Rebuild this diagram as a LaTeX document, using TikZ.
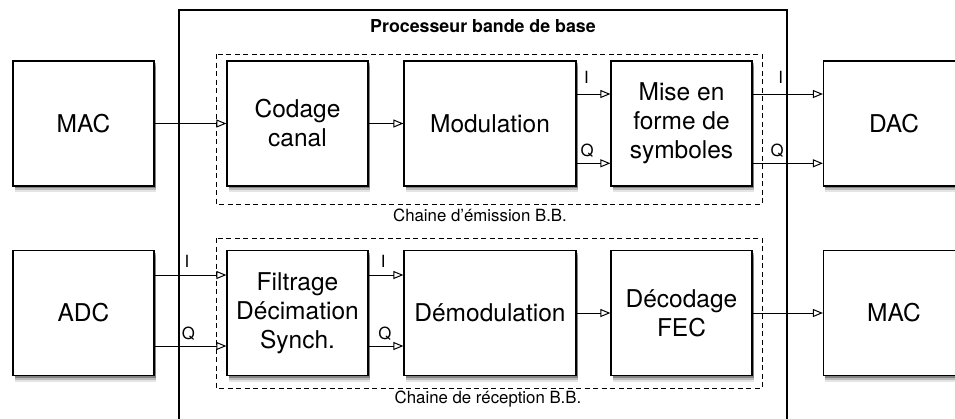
\documentclass[tikz,border=0pt]{standalone}
\usepackage{fontspec}
\setmainfont{TeX Gyre Heros}
\usetikzlibrary{arrows.meta,shadows}

\begin{document}
\begin{tikzpicture}[x=1pt, y=-1pt,
	ombre/.style={drop shadow={shadow xshift=1.5pt, shadow yshift=-2pt, opacity=0.3, fill=black},
		drop shadow={shadow xshift=1.5pt, shadow yshift=-4pt, opacity=0.18, fill=black},
		drop shadow={shadow xshift=1.5pt, shadow yshift=-6pt, opacity=0.1, fill=black}},
	bloc/.style={draw, fill=white, line width=1.2pt, minimum width=141pt, minimum height=125pt,
		align=center, inner sep=0pt, font=\fontsize{24.5}{29}\selectfont, ombre},
	fleche/.style={line width=1pt, -{Triangle[open, length=10pt, width=8pt]}},
	voie/.style={font=\fontsize{16.8}{20}\selectfont, inner sep=0pt},
	chaine/.style={draw, dash pattern=on 5pt off 3.5pt, line width=1pt}]
			
			\useasboundingbox (0,0) rectangle (955,418);
			
			%%%%% processeur %%%%%
			\draw[line width=1.2pt] (179,10) rectangle (787,440);
			\node[font=\bfseries\fontsize{17.8}{21}\selectfont, anchor=base] (titre) at (483,32) {Processeur bande de base};
			
			\draw[chaine] (216,54) rectangle (762,204);
			\node[voie, anchor=base] (emission) at (480,221) {Chaine d'émission B.B.};
			\draw[chaine] (216,238) rectangle (762,388);
			\node[voie, anchor=base] (reception) at (488,403) {Chaine de réception B.B.};
			
			%%%%% emission %%%%%
			\node[bloc] (mactx) at (83.5,123.5) {MAC};
			\node[bloc] (codage) at (297.5,123.5) {Codage\\canal};
			\node[bloc, minimum width=172pt] (modul) at (490,123.5) {Modulation};
			\node[bloc] (mise) at (681.5,123.5) {Mise en\\forme de\\symboles};
			\node[bloc] (dac) at (894,123.5) {DAC};
			
			\draw[fleche] (mactx) -- (codage);
			\draw[fleche] (codage) -- (modul);
			\draw[fleche] ([yshift=29.5pt]modul.east) -- node[voie, pos=0.29, above=10pt] (modi) {I} ([yshift=29.5pt]mise.west);
			\draw[fleche] ([yshift=-39.8pt]modul.east) -- node[voie, pos=0.31, above=5pt] (modq) {Q} ([yshift=-39.8pt]mise.west);
			\draw[fleche] ([yshift=29.5pt]mise.east) -- node[voie, pos=0.40, above=10pt] (misei) {I} ([yshift=29.5pt]dac.west);
			\draw[fleche] ([yshift=-39.8pt]mise.east) -- node[voie, pos=0.35, above=5pt] (miseq) {Q} ([yshift=-39.8pt]dac.west);
			
			%%%%% reception %%%%%
			\node[bloc] (adc) at (83.5,313) {ADC};
			\node[bloc] (filtrage) at (297.5,313) {Filtrage\\Décimation\\Synch.};
			\node[bloc, minimum width=172pt] (demod) at (490,313) {Démodulation};
			\node[bloc] (decod) at (681.5,313) {Décodage\\FEC};
			\node[bloc] (macrx) at (894,313) {MAC};
			
			\draw[fleche] ([yshift=38pt]adc.east) -- node[voie, pos=0.45, above=7pt] (adci) {I} ([yshift=38pt]filtrage.west);
			\draw[fleche] ([yshift=-33pt]adc.east) -- node[voie, pos=0.47, above=5pt] (adcq) {Q} ([yshift=-33pt]filtrage.west);
			\draw[fleche] ([yshift=38pt]filtrage.east) -- node[voie, pos=0.42, above=7pt] (filti) {I} ([yshift=38pt]demod.west);
			\draw[fleche] ([yshift=-33pt]filtrage.east) -- node[voie, pos=0.47, above=5pt] (filtq) {Q} ([yshift=-33pt]demod.west);
			\draw[fleche] (demod) -- (decod);
			\draw[fleche] (decod) -- (macrx);
			
\end{tikzpicture}
\end{document}
